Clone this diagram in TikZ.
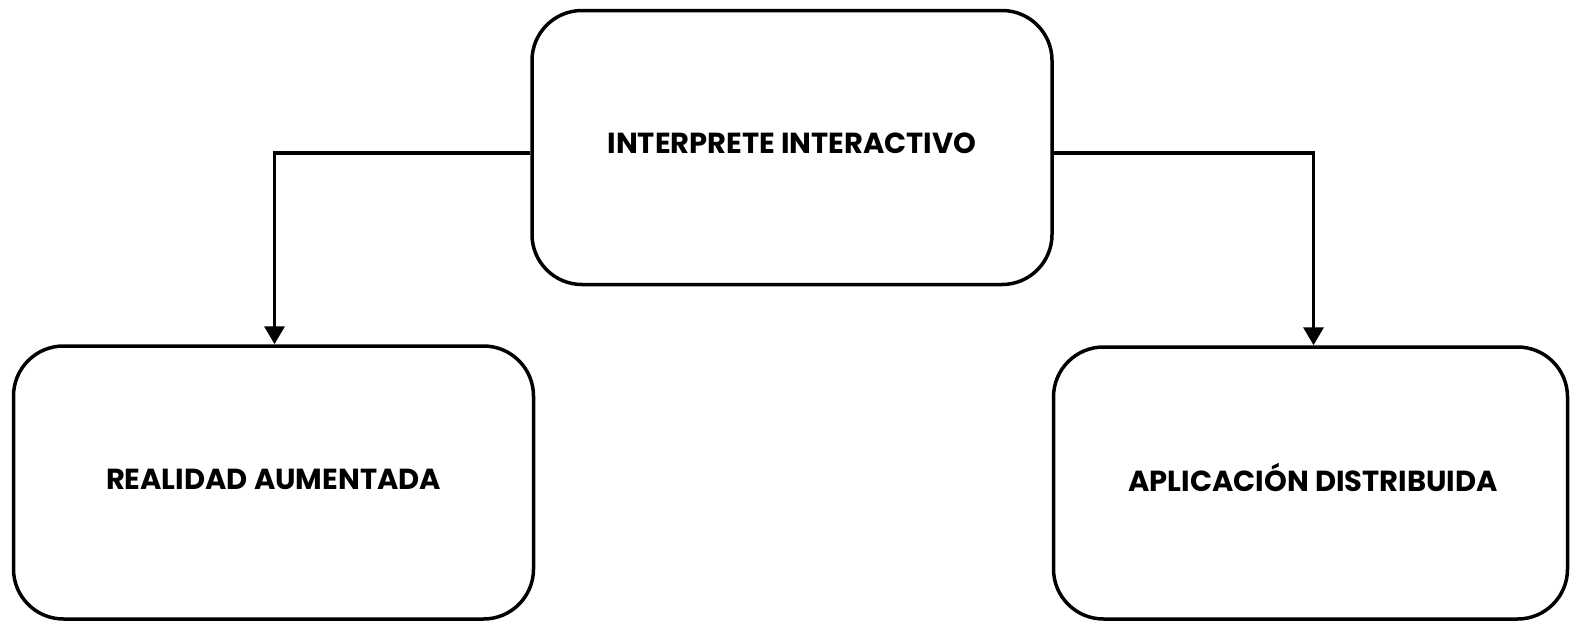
\documentclass[tikz,border=0pt]{standalone}
\usepackage{fontspec}
\setmainfont{Poppins}
\usetikzlibrary{arrows.meta}
\tikzset{
  box/.style={draw=black, line width=3.5pt, rounded corners=50pt, fill=white, inner sep=0pt},
  lbl/.style={font=\fontsize{29}{33}\selectfont\bfseries, inner sep=0pt, text=black, anchor=base},
  link/.style={draw=black, line width=3.5pt, -{Triangle[width=20pt,length=18pt]}}
}
\begin{document}
\begin{tikzpicture}[x=1pt, y=-1pt]
  \useasboundingbox (0,0) rectangle (1570,621);
  % boxes
  \node[box, minimum width=520pt, minimum height=274pt] (top) at (792,147.5) {};
  \node[box, minimum width=520pt, minimum height=273pt] (left) at (273.5,482.5) {};
  \node[box, minimum width=514pt, minimum height=272pt] (right) at (1310.5,483) {};
  % labels (placed by baseline)
  \node[lbl] (ttop) at (792,153) {INTERPRETE INTERACTIVO};
  \node[lbl] (tleft) at (273.5,489) {REALIDAD AUMENTADA};
  \node[lbl] (tright) at (1313,491) {APLICACIÓN DISTRIBUIDA};
  % connectors
  \draw[link] ([yshift=-5.5pt]top.west) -| ([xshift=1pt]left.north);
  \draw[link] ([yshift=-5.5pt]top.east) -| ([xshift=3pt]right.north);
\end{tikzpicture}
\end{document}
